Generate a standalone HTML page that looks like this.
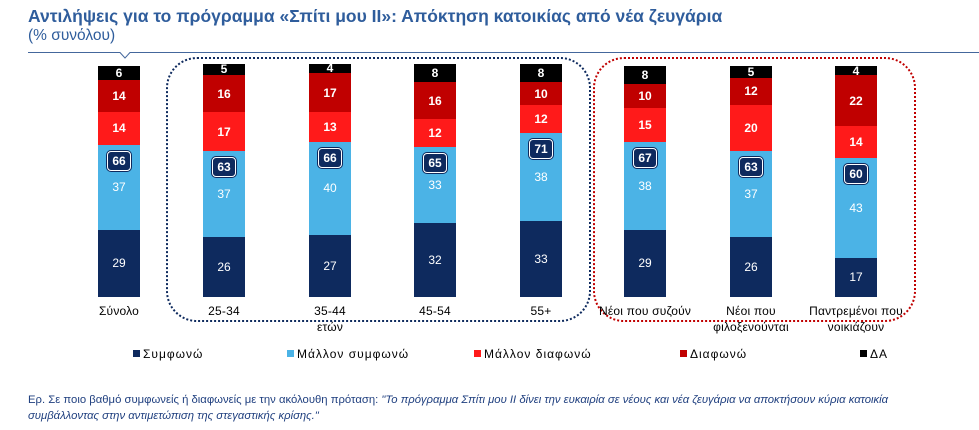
<!DOCTYPE html>
<html><head><meta charset="utf-8"><style>
body{margin:0;width:979px;height:430px;background:#fff;position:relative;overflow:hidden;font-family:"Liberation Sans",sans-serif}
.a{position:absolute}
.seg{position:absolute;width:42px;color:#fff;font-size:12px;text-align:center;display:flex;align-items:center;justify-content:center}
.b{font-weight:bold}
.badge{position:absolute;width:22px;height:18px;background:#0e2a5e;border:1px solid #fff;border-radius:4px;color:#fff;font-weight:bold;font-size:12px;text-align:center;line-height:18px;box-shadow:0 0 0 1px #0e2a5e}
.lab{position:absolute;font-size:12px;color:#000;text-align:center;width:130px;letter-spacing:0.2px}
.leg{position:absolute;top:347px;font-size:12px;letter-spacing:1px}
.leg i{display:inline-block;width:7px;height:7px;margin-right:3px;vertical-align:1px}
</style></head><body>
<div class="a" style="left:28px;top:6px;font-size:17.5px;font-weight:bold;color:#2f5d9c">Αντιλήψεις για το πρόγραμμα «Σπίτι μου ΙΙ»: Απόκτηση κατοικίας από νέα ζευγάρια</div>
<div class="a" style="left:28px;top:27px;font-size:15.5px;color:#2f5d9c">(% συνόλου)</div>
<svg class="a" style="left:0;top:0" width="979" height="430">
<polyline points="28,52.5 120,52.5 125,58 130,52.5 979,52.5" fill="none" stroke="#44679c" stroke-width="1"/>
<rect x="167" y="58" width="423" height="263" rx="30" fill="none" stroke="#0e2a5e" stroke-width="2" stroke-dasharray="2,2"/>
<rect x="594" y="58" width="321" height="263" rx="30" fill="none" stroke="#c00000" stroke-width="2" stroke-dasharray="2,2"/>
</svg>
<div id="c"></div>
<div class="leg" style="left:133px"><i style="background:#0e2a5e"></i>Συμφωνώ</div>
<div class="leg" style="left:287px"><i style="background:#4bb3e6"></i>Μάλλον συμφωνώ</div>
<div class="leg" style="left:474px"><i style="background:#ff1a1a"></i>Μάλλον διαφωνώ</div>
<div class="leg" style="left:680px"><i style="background:#c00000"></i>Διαφωνώ</div>
<div class="leg" style="left:860px"><i style="background:#000"></i>ΔΑ</div>
<div class="a" style="left:28px;top:392px;width:925px;font-size:11.3px;line-height:16px;color:#1f3f7f">Ερ. Σε ποιο βαθμό συμφωνείς ή διαφωνείς με την ακόλουθη πρόταση: <i>"Το πρόγραμμα Σπίτι μου ΙΙ δίνει την ευκαιρία σε νέους και νέα ζευγάρια να αποκτήσουν κύρια κατοικία συμβάλλοντας στην αντιμετώπιση της στεγαστικής κρίσης."</i></div>
<script>
var d=[[119,29,37,14,14,6,66,["Σύνολο"]],[224,26,37,17,16,5,63,["25-34"]],[330,27,40,13,17,4,66,["35-44","ετών"]],[435,32,33,12,16,8,65,["45-54"]],[541,33,38,12,10,8,71,["55+"]],[645,29,38,15,10,8,67,["Νέοι που συζούν"]],[751,26,37,20,12,5,63,["Νέοι που","φιλοξενούνται"]],[856,17,43,14,22,4,60,["Παντρεμένοι που","νοικιάζουν"]]];
var col=["#0e2a5e","#4bb3e6","#ff1a1a","#c00000","#000"],h="",base=297,k=2.31;
d.forEach(function(r){var y=base,x=r[0]-21;var ltop=0;
for(var i=0;i<5;i++){var hh=r[i+1]*k;y-=hh;if(i==1)ltop=y;
h+='<div class="seg'+(i>=2?' b':'')+'" style="left:'+x+'px;top:'+y+'px;height:'+hh+'px;background:'+col[i]+'">'+r[i+1]+'</div>';}
h+='<div class="badge" style="left:'+(r[0]-12)+'px;top:'+(ltop+6)+'px">'+r[6]+'</div>';
r[7].forEach(function(t,j){h+='<div class="lab" style="left:'+(r[0]-65)+'px;top:'+(304+j*16)+'px">'+t+'</div>';});});
document.getElementById("c").innerHTML=h;
</script>
</body></html>
